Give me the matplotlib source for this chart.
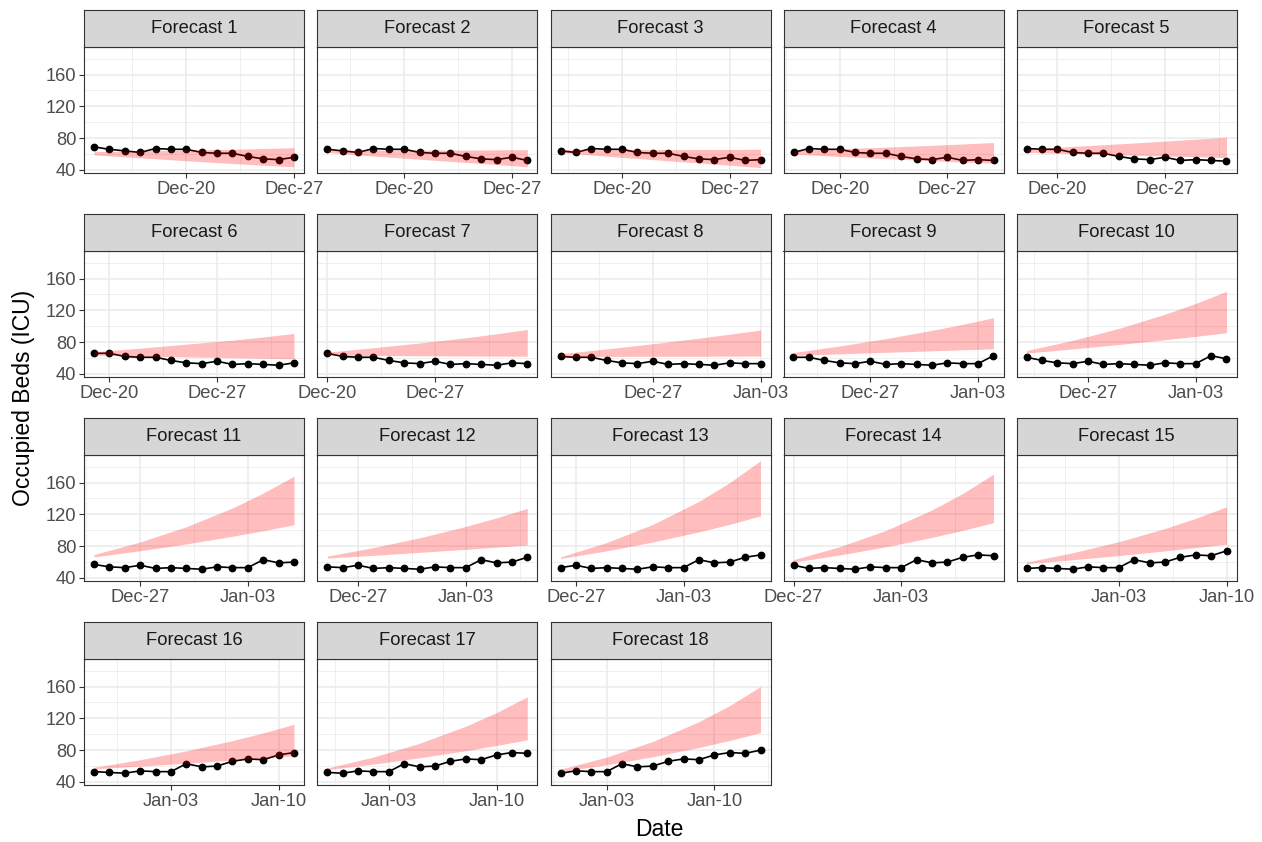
import numpy as np
import matplotlib
matplotlib.use('Agg')
import matplotlib.pyplot as plt
import matplotlib.dates as mdates

plt.rcParams['font.family'] = ['Liberation Sans', 'DejaVu Sans']

# ---------------- data ----------------
start_date = '2020-12-14'
observed = [69, 66, 64, 62, 67, 66, 66, 62, 61, 61, 57, 54, 53, 56, 52, 53, 52, 51,
            54, 53, 53, 63, 59, 60, 66, 69, 68, 74, 77, 76, 80]
window = 14
knot_days = [0, 3, 6, 9, 11, 13]

upper = [
    [63, 64, 65, 66, 67, 68],
    [65, 65, 65, 65, 65.3, 65.5],
    [65.5, 65.5, 65.6, 65.7, 65.8, 66],
    [64.5, 66.6, 68.7, 71, 72.7, 74.5],
    [66.5, 69.6, 72.8, 76.3, 78.7, 81],
    [68, 72.5, 77.5, 82.5, 86.5, 91],
    [67.5, 73, 79, 85.5, 90.5, 96],
    [65.5, 71.5, 78, 85, 90, 95.2],
    [67, 75.2, 84.4, 94.8, 102.4, 110.7],
    [69.5, 82.2, 97.3, 115.1, 128.7, 144],
    [69.5, 85.2, 104.4, 128, 146.7, 168],
    [67.5, 78.2, 90.5, 104.8, 115.6, 127.5],
    [66.5, 84.5, 107.3, 136.3, 159.9, 187.5],
    [63, 79.3, 99.7, 125.5, 146.3, 170.5],
    [60, 71.7, 85.6, 102.2, 115, 129.5],
    [58.5, 68, 79.1, 92, 101.7, 112.5],
    [57.5, 71.4, 88.7, 110.1, 127.2, 147],
    [56, 71.3, 90.9, 115.8, 136.1, 160],
]
lower = [
    [59, 55.3, 51.6, 48.1, 46, 44],
    [62, 57.5, 53.5, 49.5, 46.8, 44],
    [62, 57.3, 53, 48.8, 46, 43],
    [60, 57, 54.3, 51.6, 50, 48.5],
    [62, 60.5, 59, 57.6, 56.6, 55.6],
    [63.6, 62.5, 61.5, 60.5, 59.8, 59],
    [63.5, 63.2, 62.9, 62.6, 62.4, 62.3],
    [62, 62.1, 62.2, 62.3, 62.4, 62.5],
    [63.5, 65.3, 67.2, 69.1, 70.4, 71.6],
    [66.3, 71.5, 77, 83.1, 87.3, 91.8],
    [66.5, 74.2, 82.8, 92.4, 99.4, 107],
    [65, 68.5, 72.2, 76, 78.7, 81.5],
    [64.5, 74.1, 85.2, 98, 107.5, 118],
    [60, 68.9, 79.2, 91, 99.8, 109.5],
    [58, 62.9, 68.2, 74, 78.2, 82.5],
    [56.5, 59.9, 63.6, 67.5, 70.2, 73],
    [55.5, 62.5, 70.4, 79.3, 85.9, 93],
    [53, 61.6, 71.7, 83.4, 92.2, 102],
]
panel_titles = [f'Forecast {i}' for i in range(1, 19)]
major_dates = ['2020-12-13', '2020-12-20', '2020-12-27', '2021-01-03', '2021-01-10', '2021-01-17']
y_major = [40, 80, 120, 160]
y_minor = [60, 100, 140, 180]

# ---------------- layout ----------------
W, H = 1262, 842
fig = plt.figure(figsize=(W / 100, H / 100), dpi=100)

col_left = [84, 317.3, 550.5, 783.5, 1016.5]
pw = 220
row_top = [10.3, 214.3, 418.3, 622.3]
sh = 36.7
ph = 126

border = '#333333'
grid_col = '#EBEBEB'
tick_col = '#4D4D4D'

obs_dates = np.datetime64(start_date) + np.arange(len(observed))
obs_num = mdates.date2num(obs_dates)
major_num = mdates.date2num(np.array(major_dates, dtype='datetime64[D]'))
minor_num = major_num + 3.5

for k in range(len(panel_titles)):
    r, c = divmod(k, 5)
    x0 = col_left[c]
    top = row_top[r]
    ax = fig.add_axes([x0 / W, 1 - (top + sh + ph) / H, pw / W, ph / H])
    sax = fig.add_axes([x0 / W, 1 - (top + sh) / H, pw / W, sh / H])

    xs = obs_num[k:k + window]
    ys = observed[k:k + window]
    ax.plot(xs, ys, color='black', lw=1.2, marker='o', ms=4.6, zorder=2)

    kx = xs[0] + np.array(knot_days)
    ax.fill_between(kx, lower[k], upper[k], color='#FF0000', alpha=0.26, lw=0, zorder=3)

    ax.set_xticks(major_num)
    ax.set_xticks(minor_num, minor=True)
    ax.xaxis.set_major_formatter(mdates.DateFormatter('%b-%d'))
    ax.set_yticks(y_major)
    ax.set_yticks(y_minor, minor=True)
    ax.set_xlim(xs[0] - 0.65, xs[-1] + 0.65)
    ax.set_ylim(36.2, 194.6)
    ax.set_axisbelow(True)
    ax.grid(which='major', color=grid_col, lw=1.1)
    ax.grid(which='minor', color=grid_col, lw=0.55)
    ax.tick_params(which='minor', length=0)
    ax.tick_params(which='major', length=3.6, width=0.8, color=border,
                   labelsize=13.2, labelcolor=tick_col, pad=2)
    if c != 0:
        ax.tick_params(axis='y', which='both', left=False, labelleft=False)
    for s in ax.spines.values():
        s.set_color(border)
        s.set_linewidth(0.8)
        s.set_zorder(5)

    sax.set_facecolor('#D6D6D6')
    sax.set_xticks([])
    sax.set_yticks([])
    for s in sax.spines.values():
        s.set_color(border)
        s.set_linewidth(0.8)
    sax.text(0.5, 0.5, panel_titles[k], ha='center', va='center',
             fontsize=13.2, color='#1A1A1A', transform=sax.transAxes)

fig.text(659.5 / W, 1 - 829.5 / H, 'Date', ha='center', va='center', fontsize=16.5)
fig.text(24 / W, 1 - 398 / H, 'Occupied Beds (ICU)', ha='center', va='center',
         rotation=90, fontsize=16.5)

fig.savefig('out.png', dpi=100)
